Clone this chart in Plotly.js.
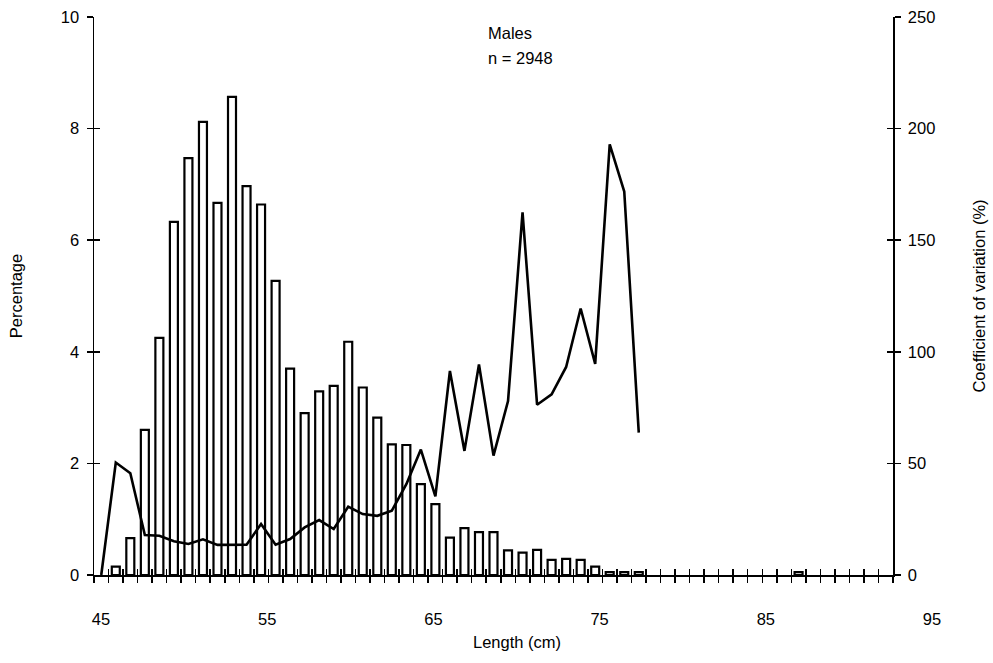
<!DOCTYPE html>
<html><head><meta charset="utf-8">
<script src="https://cdn.plot.ly/plotly-3.0.1.min.js"></script>
<style>html,body{margin:0;padding:0;background:#fff}</style>
</head><body><div id="chart" style="width:993px;height:663px"></div>
<script>
// Length classes (cm), one per bar slot on the axis
const lengths = [45,46,47,48,49,50,51,52,53,54,55,56,57,58,59,60,61,62,63,64,65,66,67,68,69,70,71,72,73,74,75,76,77,78,79,80,81,82,83,84,85,86,87,88,89,90,91,92,93,94,95,96,97,98,99];
// Percentage of males in each length class (null = no bar)
const percentage = [null,0.15,0.66,2.60,4.25,6.33,7.47,8.12,6.67,8.57,6.97,6.64,5.27,3.70,2.90,3.29,3.39,4.18,3.36,2.82,2.34,2.33,1.63,1.27,0.67,0.84,0.77,0.77,0.44,0.40,0.45,0.27,0.29,0.27,0.15,0.05,0.05,0.05,null,null,null,null,null,null,null,null,null,null,0.05,null,null,null,null,null,null];
// Coefficient of variation (%) by length class
const cvLengths = [45,46,47,48,49,50,51,52,53,54,55,56,57,58,59,60,61,62,63,64,65,66,67,68,69,70,71,72,73,74,75,76,77,78,79,80,81,82];
const cv = [0,50.4,45.6,17.9,17.6,15.1,13.9,16.0,13.5,13.6,13.6,22.8,13.6,16.1,21.3,24.6,20.6,30.6,27.3,26.5,28.8,40.7,56.2,35.2,91.4,55.6,94.3,53.5,77.9,162.5,76.3,80.9,93.2,119.4,94.6,192.9,171.8,63.8];
// Printed length-axis labels
const lengthTickVals = [45,55,65,75,85,95];
const lengthTickText = ['45','55','65','75','85','95'];
const pctTickVals = [0,2,4,6,8,10];
const cvTickVals = [0,50,100,150,200,250];

const FONT = 'Liberation Sans, Arial, Helvetica, sans-serif';
const D = 799/846;

const traces = [
  {type:'bar', x:lengths, y:percentage, width:0.55, xaxis:'x', yaxis:'y',
   marker:{color:'#ffffff', line:{color:'#000000', width:2.2}}, hoverinfo:'x+y'},
  {type:'scatter', mode:'lines', x:cvLengths, y:cv, xaxis:'x', yaxis:'y2',
   line:{color:'#000000', width:2.6}, hoverinfo:'x+y'},
  {type:'scatter', mode:'markers', x:lengthTickVals, y:pctTickVals, xaxis:'x3', yaxis:'y',
   marker:{opacity:0}, hoverinfo:'skip', showlegend:false},
  {type:'scatter', mode:'markers', x:lengths, y:percentage, xaxis:'x2', yaxis:'y3',
   marker:{opacity:0}, hoverinfo:'skip', showlegend:false},
  {type:'scatter', mode:'markers', x:cvLengths, y:cv, xaxis:'x2', yaxis:'y4',
   marker:{opacity:0}, hoverinfo:'skip', showlegend:false}
];

const baseAx = {showgrid:false, zeroline:false, tickcolor:'#000', tickwidth:1.5, linecolor:'#000', linewidth:1.5,
                tickfont:{family:FONT, size:16.5, color:'#000'}};
const titleFont = {family:FONT, size:16.5, color:'#000'};

const layout = {
  width:993, height:663,
  margin:{l:94, r:53, t:17, b:88},
  paper_bgcolor:'#ffffff', plot_bgcolor:'rgba(0,0,0,0)',
  showlegend:false,
  font:{family:FONT, size:16, color:'#000'},
  xaxis:Object.assign({}, baseAx, {domain:[0,D], range:[44.5,99.5], tickmode:'linear', tick0:44.5, dtick:1,
        ticks:'outside', ticklen:6, showticklabels:false, showline:true, anchor:'y'}),
  xaxis2:Object.assign({}, baseAx, {overlaying:'x', range:[44.5,99.5], tickmode:'linear', tick0:44.5, dtick:1,
        ticks:'inside', ticklen:6, showticklabels:false, showline:false, anchor:'y'}),
  xaxis3:Object.assign({}, baseAx, {domain:[0,1], range:[44.579,95.48], tickmode:'array', tickvals:lengthTickVals,
        ticktext:lengthTickText, ticks:'', showline:false, anchor:'y', ticklabelstandoff:32,
        title:{text:'Length (cm)', font:titleFont, standoff:9}}),
  yaxis:Object.assign({}, baseAx, {range:[0,10], tickmode:'array', tickvals:pctTickVals, ticks:'outside', ticklen:6,
        showline:true, anchor:'x', ticklabelstandoff:4,
        title:{text:'Percentage', font:titleFont, standoff:34}}),
  yaxis2:Object.assign({}, baseAx, {overlaying:'y', side:'right', range:[0,250], tickmode:'array', tickvals:cvTickVals,
        ticks:'outside', ticklen:6, showline:true, anchor:'x', ticklabelstandoff:4,
        title:{text:'Coefficient of variation (%)', font:titleFont, standoff:39}}),
  yaxis3:Object.assign({}, baseAx, {overlaying:'y', range:[0,10], tickmode:'array', tickvals:pctTickVals,
        ticks:'inside', ticklen:6, showticklabels:false, showline:false, anchor:'x'}),
  yaxis4:Object.assign({}, baseAx, {overlaying:'y', side:'right', range:[0,250], tickmode:'array', tickvals:cvTickVals,
        ticks:'inside', ticklen:6, showticklabels:false, showline:false, anchor:'x'}),
  annotations:[
    {xref:'paper', yref:'paper', x:(486-94)/846, y:(575-33)/558, xanchor:'left', yanchor:'middle',
     text:'Males', showarrow:false, font:titleFont},
    {xref:'paper', yref:'paper', x:(486-94)/846, y:(575-58)/558, xanchor:'left', yanchor:'middle',
     text:'n = 2948', showarrow:false, font:titleFont}
  ]
};

Plotly.newPlot('chart', traces, layout, {displayModeBar:false, staticPlot:true});
</script>
</body></html>
